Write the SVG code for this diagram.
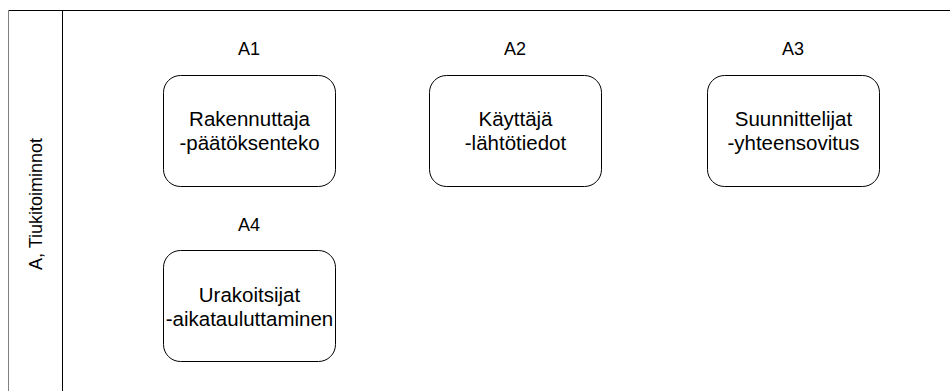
<svg xmlns="http://www.w3.org/2000/svg" width="950" height="391" viewBox="0 0 950 391">
  <style>
    .lane { fill: none; stroke: #000; stroke-width: 1; }
    .edge { fill: none; stroke: #808080; stroke-width: 1; }
    .box { fill: #fff; stroke: #000; stroke-width: 1; }
    .txt { font-family: "Liberation Sans", Arial, sans-serif; font-size: 20.5px; fill: #000; text-anchor: middle; }
    .lbl { font-family: "Liberation Sans", Arial, sans-serif; font-size: 18px; fill: #000; text-anchor: middle; }
  </style>
  <rect width="950" height="391" fill="#fff"/>

  <!-- swimlane frame -->
  <g id="lane">
    <line class="lane" x1="8.5" y1="10.5" x2="950" y2="10.5"/>
    <line class="edge" x1="8.5" y1="10.5" x2="8.5" y2="391"/>
    <line class="lane" x1="62.5" y1="10.5" x2="62.5" y2="391"/>
    <text class="lbl" font-size="19" transform="translate(42,204) rotate(-90)">A, Tiukitoiminnot</text>
  </g>

  <g id="connectors"></g>

  <g id="A1">
    <text class="lbl" x="249" y="55">A1</text>
    <rect class="box" x="163.5" y="75.5" width="172" height="111" rx="17" ry="17"/>
    <text class="txt" x="249.5" y="126">Rakennuttaja</text>
    <text class="txt" x="249.5" y="150">-päätöksenteko</text>
  </g>

  <g id="A2">
    <text class="lbl" x="515" y="55">A2</text>
    <rect class="box" x="429.5" y="75.5" width="172" height="111" rx="17" ry="17"/>
    <text class="txt" x="515.5" y="126">Käyttäjä</text>
    <text class="txt" x="515.5" y="150">-lähtötiedot</text>
  </g>

  <g id="A3">
    <text class="lbl" x="793" y="55">A3</text>
    <rect class="box" x="707.5" y="75.5" width="172" height="111" rx="17" ry="17"/>
    <text class="txt" x="793.5" y="126">Suunnittelijat</text>
    <text class="txt" x="793.5" y="150">-yhteensovitus</text>
  </g>

  <g id="A4">
    <text class="lbl" x="249" y="231">A4</text>
    <rect class="box" x="163.5" y="250.5" width="172" height="111" rx="17" ry="17"/>
    <text class="txt" x="249.5" y="302">Urakoitsijat</text>
    <text class="txt" x="249.5" y="326">-aikatauluttaminen</text>
  </g>
</svg>
